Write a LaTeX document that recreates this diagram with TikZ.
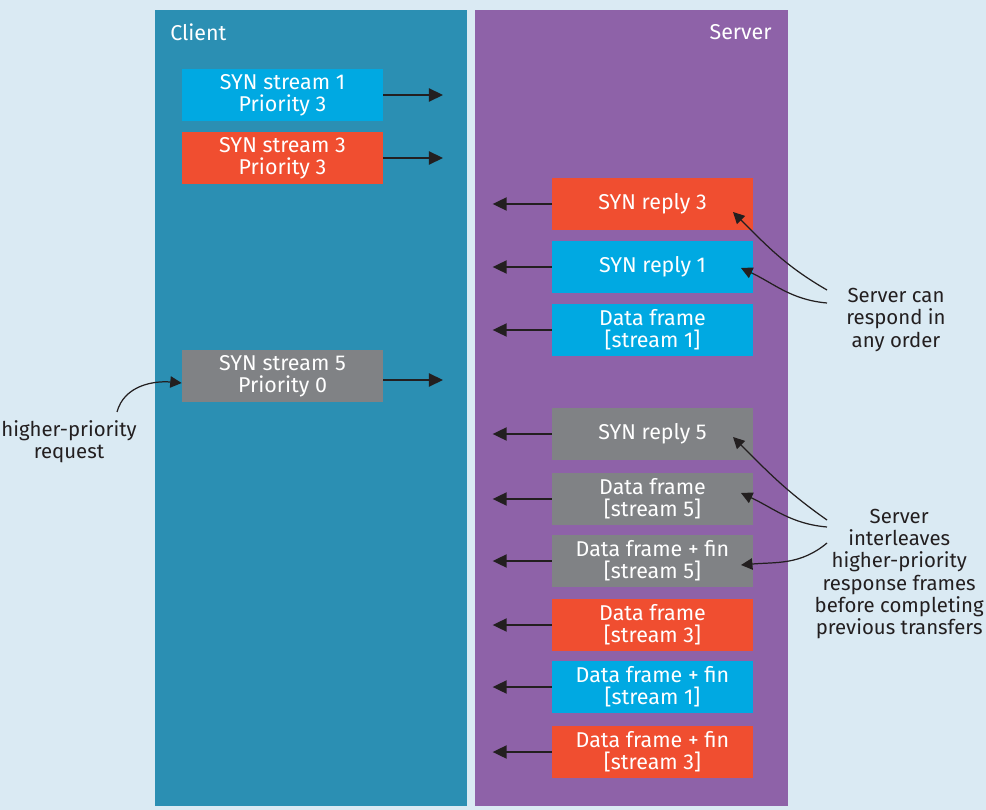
\documentclass[tikz,border=0pt]{standalone}
\usepackage{fontspec}
\setmainfont{Fira Sans}
\usetikzlibrary{arrows.meta}

\definecolor{bgblue}{HTML}{DAEAF3}
\definecolor{clientcol}{HTML}{2B8FB3}
\definecolor{servercol}{HTML}{8E62A8}
\definecolor{strone}{HTML}{00A9E2}
\definecolor{strthree}{HTML}{F04E30}
\definecolor{strfive}{HTML}{808285}
\definecolor{ink}{HTML}{231F20}

\tikzset{
    frame/.style={minimum width=4.02cm, minimum height=1.04cm, inner sep=0pt,
        text=white, align=center, font=\fontsize{12.2}{12.6}\selectfont},
    note/.style={text=ink, align=center, inner sep=0pt, font=\fontsize{11.6}{12.6}\selectfont},
    send/.style={-{Triangle[length=8pt,width=7.5pt]}, ink, line width=0.9pt},
    point/.style={-{Triangle[length=6.5pt,width=6.5pt]}, ink, line width=0.7pt}
}

\begin{document}
\begin{tikzpicture}[x=0.02cm, y=-0.02cm]
    % background and the two columns
    \fill[bgblue] (0,0) rectangle (986,810);
    \useasboundingbox (0,0) rectangle (986,810);
    \fill[clientcol] (155,10) rectangle (467,806);
    \fill[servercol] (475,10) rectangle (788,806);
    \node[frame, anchor=west, minimum width=0pt] (client) at (170,32) {Client};
    \node[frame, anchor=east, minimum width=0pt] (server) at (772,32) {Server};

    % client requests
    \node[frame, fill=strone] (synA) at (282.5,95) {SYN stream 1\\Priority 3};
    \node[frame, fill=strthree] (synC) at (282.5,158) {SYN stream 3\\Priority 3};
    \node[frame, fill=strfive] (synE) at (282.5,376) {SYN stream 5\\Priority 0};

    \coordinate (outA) at (443,95);
    \coordinate (outC) at (443,158);
    \coordinate (outE) at (443,380);
    \draw[send] (synA.east) -- (outA);
    \draw[send] (synC.east) -- (outC);
    \draw[send] (synE.east |- outE) -- (outE);

    % server responses
    \node[frame, fill=strthree] (repC) at (652.5,204) {SYN reply 3};
    \node[frame, fill=strone] (repA) at (652.5,267) {SYN reply 1};
    \node[frame, fill=strone] (datA) at (652.5,330) {Data frame\\{[stream 1]}};
    \node[frame, fill=strfive] (repE) at (652.5,434) {SYN reply 5};
    \node[frame, fill=strfive] (datE) at (652.5,499) {Data frame\\{[stream 5]}};
    \node[frame, fill=strfive] (finE) at (652.5,561) {Data frame + fin\\{[stream 5]}};
    \node[frame, fill=strthree] (datC) at (652.5,625) {Data frame\\{[stream 3]}};
    \node[frame, fill=strone] (finA) at (652.5,687) {Data frame + fin\\{[stream 1]}};
    \node[frame, fill=strthree] (finC) at (652.5,752) {Data frame + fin\\{[stream 3]}};

    \foreach \f in {repC, repA, datA, repE, datE, finE, datC, finA, finC} {
        \coordinate (in\f) at ([xshift=-59*0.02cm]\f.west);
        \draw[send] (\f.west) -- (in\f);
    }

    % notes
    \node[note] (anyorder) at (896,320) {Server can\\respond in\\any order};
    \node[note, anchor=east] (interleave) at (984,574) {Server\\interleaves\\higher-priority\\response frames\\before completing\\previous transfers};
    \node[note, anchor=west] (hiprio) at (1,442) {higher-priority\\request};

    \coordinate (aoA) at (827,290);
    \coordinate (aoB) at (827,303);
    \draw[point] (aoA) to[out=150, in=-45] (733,212);
    \draw[point] (aoB) to[out=175, in=-25] (741,268);

    \coordinate (ilA) at (827,520);
    \coordinate (ilB) at (827,527);
    \coordinate (ilC) at (827,543);
    \draw[point] (ilA) to[out=145, in=-45] (733,437);
    \draw[point] (ilB) to[out=175, in=-25] (741,493);
    \draw[point] (ilC) to[out=220, in=5] (741,565);

    \coordinate (hpA) at (117,412);
    \draw[point] (hpA) to[out=75, in=175] (synE.west |- 0,383);
\end{tikzpicture}
\end{document}
